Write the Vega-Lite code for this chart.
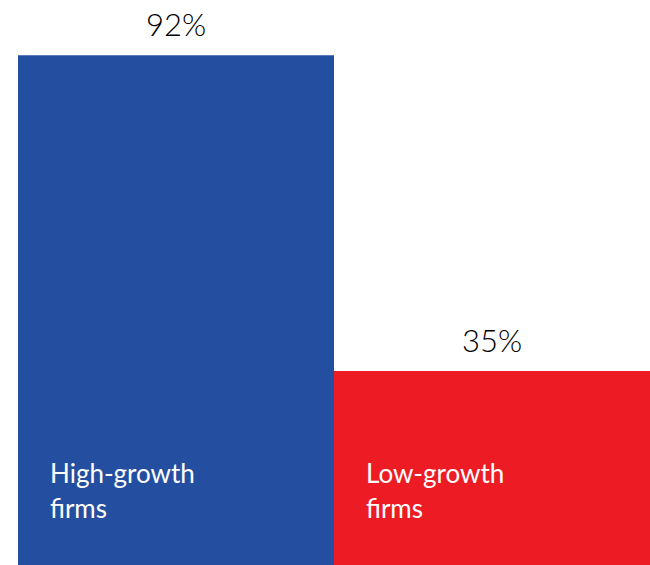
{
  "$schema": "https://vega.github.io/schema/vega-lite/v6.json",
  "width": 632,
  "height": 554,
  "autosize": {"type": "none"},
  "padding": {"left": 18, "top": 11, "right": 0, "bottom": 0},
  "background": "white",
  "config": {"view": {"stroke": null}},
  "data": {"values": [
    {"group": "High-growth firms", "line1": "High-growth", "line2": "firms", "value": 92, "label": "92%"},
    {"group": "Low-growth firms", "line1": "Low-growth", "line2": "firms", "value": 35, "label": "35%"}
  ]},
  "encoding": {
    "x": {"field": "group", "type": "nominal", "axis": null, "sort": null,
          "scale": {"paddingInner": 0, "paddingOuter": 0}}
  },
  "layer": [
    {
      "mark": {"type": "bar"},
      "encoding": {
        "y": {"field": "value", "type": "quantitative", "axis": null, "scale": {"domain": [0, 100]}},
        "color": {"field": "group", "type": "nominal", "legend": null,
                  "scale": {"domain": ["High-growth firms", "Low-growth firms"], "range": ["#244FA1", "#ED1C24"]}}
      }
    },
    {
      "mark": {"type": "text", "font": "Lato", "fontWeight": 300, "fontSize": 31, "baseline": "alphabetic", "dy": -19, "color": "#000000"},
      "encoding": {
        "y": {"field": "value", "type": "quantitative"},
        "text": {"field": "label"}
      }
    },
    {
      "mark": {"type": "text", "font": "Lato", "fontWeight": 400, "fontSize": 26, "align": "left", "baseline": "alphabetic", "dx": 32, "dy": -82, "lineHeight": 35, "color": "white"},
      "encoding": {
        "x": {"field": "group", "type": "nominal", "bandPosition": 0},
        "y": {"datum": 0},
        "text": {"field": "lines"}
      },
      "transform": [{"calculate": "[datum.line1, datum.line2]", "as": "lines"}]
    }
  ]
}
